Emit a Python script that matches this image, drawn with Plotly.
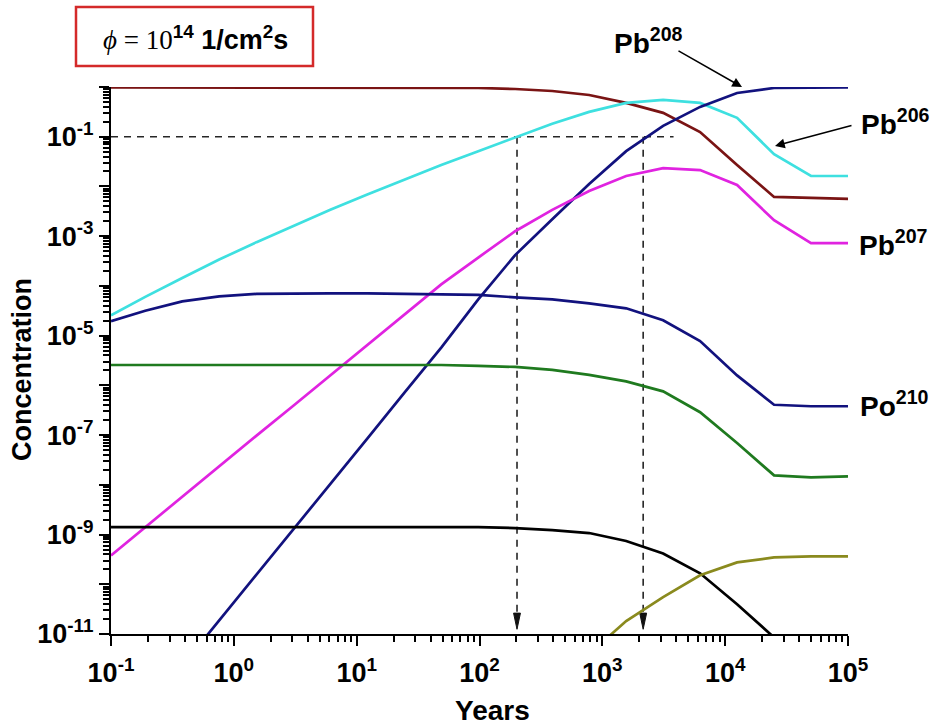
import plotly.graph_objects as go

# Irradiation time (years)
years = [0.1, 0.19, 0.38, 0.76, 1.53, 3.05, 6.1, 12.2, 24.4, 48.8, 97.7,
         195, 391, 781, 1563, 3125, 6250, 12500, 25000, 50000, 100000]

# log10 of nuclide concentration at each time
log_bi209 = [-0.01, -0.01, -0.01, -0.01, -0.01, -0.01, -0.01, -0.01, -0.01, -0.015, -0.02,
             -0.04, -0.08, -0.16, -0.32, -0.52, -0.905, -1.57, -2.21, -2.23, -2.25]
log_pb206 = [-4.59, -4.22, -3.84, -3.47, -3.12, -2.79, -2.47, -2.16, -1.86, -1.57, -1.29,
             -1.01, -0.74, -0.50, -0.32, -0.26, -0.32, -0.62, -1.35, -1.79, -1.79]
log_pb208 = [None, None, -11.64, -10.73, -9.80, -8.90, -7.98, -7.07, -6.15, -5.24, -4.27,
             -3.38, -2.66, -1.95, -1.29, -0.78, -0.40, -0.12, -0.02, -0.01, -0.01]
log_pb207 = [-9.42, -8.85, -8.24, -7.63, -7.01, -6.41, -5.80, -5.19, -4.58, -3.97, -3.43,
             -2.90, -2.47, -2.09, -1.79, -1.63, -1.67, -1.97, -2.68, -3.14, -3.14]
log_po210 = [-4.71, -4.50, -4.31, -4.21, -4.16, -4.15, -4.15, -4.15, -4.16, -4.17, -4.18,
             -4.23, -4.27, -4.35, -4.45, -4.69, -5.11, -5.80, -6.39, -6.42, -6.42]
log_green = [-5.59, -5.59, -5.59, -5.59, -5.59, -5.59, -5.59, -5.59, -5.59, -5.59, -5.61,
             -5.63, -5.69, -5.79, -5.92, -6.12, -6.54, -7.16, -7.81, -7.85, -7.83]
log_black = [-8.85, -8.85, -8.85, -8.85, -8.85, -8.85, -8.85, -8.85, -8.85, -8.85, -8.85,
             -8.87, -8.91, -8.97, -9.13, -9.38, -9.78, -10.40, -11.07, None, None]
log_olive = [None, None, None, None, None, None, None, None, None, None, None,
             None, None, -11.4, -10.74, -10.26, -9.82, -9.56, -9.46, -9.44, -9.44]

# Guide: concentration level 0.1 and the times it is reached
guide_level = 0.1
guide_end = 3800
t_cross = [202, 2150]

x_decades = [-1, 0, 1, 2, 3, 4, 5]
y_decades = [0, -1, -2, -3, -4, -5, -6, -7, -8, -9, -10, -11]
y_labelled = [-1, -3, -5, -7, -9, -11]

FONT = "Liberation Sans"


def conc(logs):
    return [None if v is None else 10 ** v for v in logs]


series = [
    (log_bi209, "#7A1414"),
    (log_pb206, "#3EE0E0"),
    (log_pb208, "#12127E"),
    (log_pb207, "#E023E0"),
    (log_po210, "#12127E"),
    (log_green, "#1F7A1F"),
    (log_black, "#000000"),
    (log_olive, "#8A8A1E"),
]

fig = go.Figure()

# dashed guide lines
fig.add_trace(go.Scatter(x=[years[0], guide_end], y=[guide_level, guide_level], mode="lines",
                         line=dict(color="#262626", width=1.6, dash="7px,6px"), hoverinfo="skip"))
arrow_top = 10 ** -10.58
arrow_tip = 10 ** -10.905
for t in t_cross:
    fig.add_trace(go.Scatter(x=[t, t], y=[guide_level, arrow_top], mode="lines",
                             line=dict(color="#262626", width=1.6, dash="7px,6px"), hoverinfo="skip"))
    w = 10 ** 0.028
    fig.add_trace(go.Scatter(x=[t / w, t * w, t, t / w], y=[arrow_top, arrow_top, arrow_tip, arrow_top],
                             mode="lines", fill="toself", fillcolor="#111111",
                             line=dict(color="#111111", width=1), hoverinfo="skip"))

for logs, color in series:
    fig.add_trace(go.Scatter(x=years, y=conc(logs), mode="lines", connectgaps=False,
                             line=dict(color=color, width=2.7), hoverinfo="skip"))


def sup_label(e):
    return f"10<sup>{e}</sup>"


minor_x = [m * 10 ** d for d in x_decades[:-1] for m in range(2, 10)]
minor_y = [m * 10 ** d for d in y_decades[1:] for m in range(2, 10)]

axis_common = dict(
    type="log", showline=True, linecolor="black", linewidth=2, ticks="outside",
    ticklen=10, tickwidth=2, tickcolor="black", showgrid=False, zeroline=False,
    tickfont=dict(family=FONT, size=27, color="black", weight="bold"),
)

fig.update_layout(
    width=932, height=727,
    margin=dict(l=111, r=84, t=87, b=93),
    paper_bgcolor="white", plot_bgcolor="white",
    showlegend=False,
    font=dict(family=FONT, color="black"),
    xaxis=dict(**axis_common, range=[-1, 5], tickmode="array",
               tickvals=[10 ** d for d in x_decades],
               ticktext=[sup_label(d) for d in x_decades],
               ticklabelstandoff=4,
               minor=dict(ticks="outside", ticklen=6, tickwidth=1.5, tickcolor="black",
                          tickmode="array", tickvals=minor_x)),
    yaxis=dict(**axis_common, range=[-11, 0], tickmode="array",
               tickvals=[10 ** d for d in y_decades],
               ticktext=[sup_label(d) if d in y_labelled else "" for d in y_decades],
               minor=dict(ticks="outside", ticklen=6, tickwidth=1.5, tickcolor="black",
                          tickmode="array", tickvals=minor_y)),
)


def px_x(px):
    return (px - 111) / 737


def px_y(py):
    return (634 - py) / 547


def note(text, px, py, size, **kw):
    fig.add_annotation(xref="paper", yref="paper", x=px_x(px), y=px_y(py), showarrow=False,
                       xanchor="center", yanchor="middle", text=text,
                       font=dict(family=FONT, size=size, color="black"), **kw)


# flux box
fig.add_shape(type="rect", xref="paper", yref="paper",
              x0=px_x(76), x1=px_x(313), y0=px_y(66), y1=px_y(7),
              line=dict(color="#D42A2A", width=2.5), fillcolor="white")
note('<span style="font-family:Liberation Serif"><i>ϕ</i> = 10</span>'
     '<b><sup>14</sup> 1/cm<sup>2</sup>s</b>', 195, 38, 27)

# nuclide labels
for txt, lx, ly in [("Pb<sup>208</sup>", 648, 41), ("Pb<sup>206</sup>", 895, 122),
                    ("Pb<sup>207</sup>", 893, 243), ("Po<sup>210</sup>", 894, 404)]:
    note(f"<b>{txt}</b>", lx, ly, 28)

# pointer arrows
fig.add_annotation(xref="paper", yref="paper", x=px_x(742), y=px_y(87), ax=-65, ay=-37,
                   text="", showarrow=True, arrowhead=2, arrowsize=1.3, arrowwidth=1.5,
                   arrowcolor="black")
fig.add_annotation(xref="paper", yref="paper", x=px_x(775), y=px_y(146), ax=78, ay=-21,
                   text="", showarrow=True, arrowhead=2, arrowsize=1.3, arrowwidth=1.5,
                   arrowcolor="black")

# axis titles
note("<b>Concentration</b>", 22, 370, 27, textangle=-90)
note("<b>Years</b>", 492, 710, 28)

fig.write_html("out.html")
